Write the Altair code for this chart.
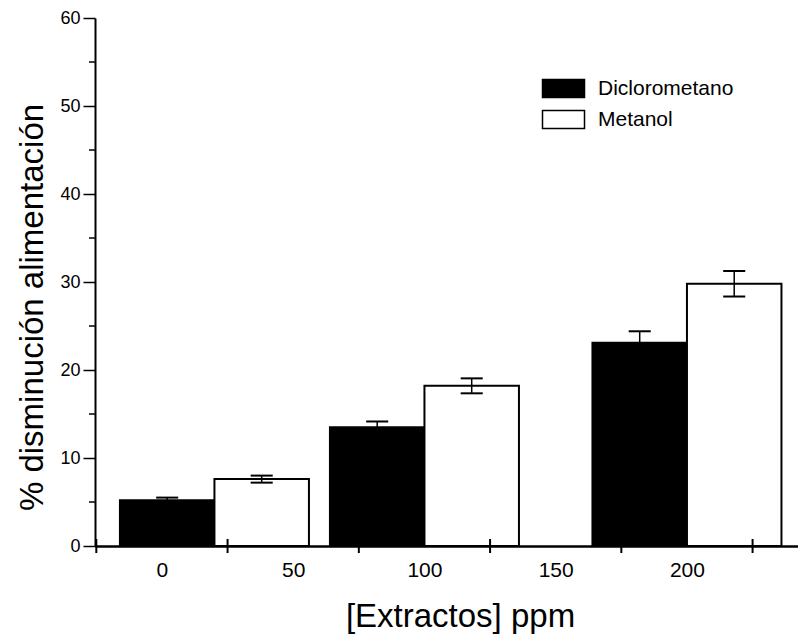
import altair as alt
import pandas as pd

# Concentration of each extract group (ppm) and the two extract series
concentracion = [20, 100, 200]
extractos = ["Diclorometano", "Metanol"]
diclorometano = [5.2, 13.5, 23.1]
diclorometano_err = [0.3, 0.65, 1.3]
metanol = [7.6, 18.2, 29.8]
metanol_err = [0.4, 0.85, 1.45]

# Axis labels and tick positions
etiquetas_x = [0, 50, 100, 150, 200]
marcas_x = [-25, 25, 75, 125, 175, 225]
valores_y = [0, 10, 20, 30, 40, 50, 60]
marcas_menores_y = [5, 15, 25, 35, 45, 55]

filas = []
for i, c in enumerate(concentracion):
    filas.append({"extracto": extractos[0], "conc": c,
                  "valor": diclorometano[i], "err": diclorometano_err[i]})
    filas.append({"extracto": extractos[1], "conc": c,
                  "valor": metanol[i], "err": metanol_err[i]})
df = pd.DataFrame(filas)

W, H = 703, 528
FUENTE = "Liberation Sans"
TITULO_X = "[Extractos] ppm"
TITULO_Y = "% disminución alimentación"

x_scale = alt.Scale(domain=[-25.5, 242.3], nice=False, zero=False)
y_scale = alt.Scale(domain=[0, 60], nice=False)

base = alt.Chart(df).transform_calculate(
    x0="datum.extracto == 'Diclorometano' ? datum.conc - 36 : datum.conc",
    x1="datum.extracto == 'Diclorometano' ? datum.conc : datum.conc + 36",
    lo="datum.valor - datum.err",
    hi="datum.valor + datum.err",
).transform_calculate(
    xc="(datum.x0 + datum.x1) / 2",
).transform_calculate(
    cl="datum.xc - 4.2",
    cr="datum.xc + 4.2",
)

barras = base.mark_rect(stroke="black", strokeWidth=2).encode(
    x=alt.X("x0:Q", scale=x_scale, title=TITULO_X,
            axis=alt.Axis(values=etiquetas_x, ticks=False, grid=False,
                          domainWidth=2.5, labelFontSize=21, labelPadding=13,
                          labelOverlap=False, titleFontSize=33,
                          titleX=365, titleY=80, titleBaseline="alphabetic",
                          titleAlign="center")),
    x2="x1:Q",
    y=alt.Y("valor:Q", scale=y_scale, title=TITULO_Y,
            axis=alt.Axis(values=valores_y, grid=False, tickSize=12,
                          tickWidth=1.5, domainWidth=2, labelFontSize=18,
                          labelPadding=3, titleFontSize=33, titleAngle=-90,
                          titleX=-53, titleY=289, titleBaseline="alphabetic",
                          titleAlign="center")),
    y2=alt.datum(0),
    color=alt.Color(
        "extracto:N",
        scale=alt.Scale(domain=extractos, range=["black", "white"]),
        title=None,
        legend=alt.Legend(
            orient="none", legendX=457, legendY=59,
            symbolType="M-2,-0.86L2,-0.86L2,0.86L-2,0.86Z",
            symbolSize=441, symbolStrokeColor="black",
            symbolStrokeWidth=1.5, labelFontSize=21, labelFont=FUENTE,
            labelColor="black", labelOffset=23, rowPadding=6,
        ),
    ),
)

barra_error = base.mark_rule(color="black", strokeWidth=1.5).encode(
    x=alt.X("xc:Q", scale=x_scale, title=TITULO_X),
    y=alt.Y("lo:Q", scale=y_scale, title=TITULO_Y),
    y2="hi:Q",
)
tope_sup = base.mark_rule(color="black", strokeWidth=2).encode(
    x=alt.X("cl:Q", scale=x_scale, title=TITULO_X),
    x2="cr:Q",
    y=alt.Y("hi:Q", scale=y_scale, title=TITULO_Y),
)
tope_inf = base.mark_rule(color="black", strokeWidth=2).encode(
    x=alt.X("cl:Q", scale=x_scale, title=TITULO_X),
    x2="cr:Q",
    y=alt.Y("lo:Q", scale=y_scale, title=TITULO_Y),
)

# Ticks crossing the x axis between the labels
ticks_x = alt.Chart(pd.DataFrame({"m": marcas_x})).mark_rule(
    color="black", strokeWidth=2
).encode(
    x=alt.X("m:Q", scale=x_scale, title=TITULO_X),
    y=alt.value(H - 7),
    y2=alt.value(H + 7),
)

# Minor ticks on the y axis
ticks_y = alt.Chart(pd.DataFrame({"v": marcas_menores_y})).mark_rule(
    color="black", strokeWidth=1.5
).encode(
    y=alt.Y("v:Q", scale=y_scale, title=TITULO_Y),
    x=alt.value(-6),
    x2=alt.value(0),
)

chart = alt.layer(
    barras, barra_error, tope_sup, tope_inf, ticks_x, ticks_y
).properties(
    width=W,
    height=H,
    autosize="none",
    padding={"left": 95, "top": 18, "right": 0, "bottom": 89},
    background="white",
).configure_view(
    strokeWidth=0
).configure_axis(
    labelFont=FUENTE,
    titleFont=FUENTE,
    labelColor="black",
    titleColor="black",
    domainColor="black",
    tickColor="black",
    titleFontWeight="normal",
)

chart.save("out.html", embed_options={"renderer": "svg", "actions": False})
